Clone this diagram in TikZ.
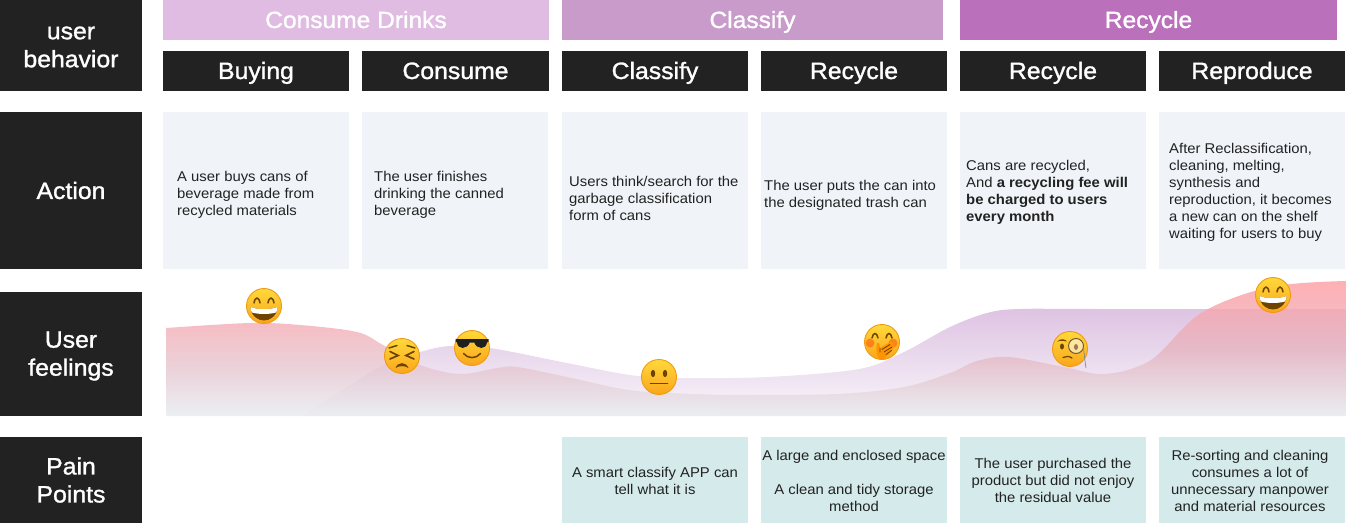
\documentclass[tikz,border=0pt]{standalone}
\usepackage{fontspec}
\setmainfont{Liberation Sans}[FakeStretch=1.05]
\newfontfamily\headfont{Liberation Sans}[FakeStretch=1.05,FakeBold=1.3]
\definecolor{ink}{HTML}{222222}
\definecolor{panel}{HTML}{F0F4F8}
\definecolor{painbg}{HTML}{D5EAEA}
\definecolor{barA}{HTML}{E0BBE2}
\definecolor{barB}{HTML}{C99BCB}
\definecolor{barC}{HTML}{BA70BA}
\definecolor{txt}{HTML}{222222}
\definecolor{fcTop}{HTML}{FFD93A}
\definecolor{fcBot}{HTML}{FAA51C}
\definecolor{fcEdge}{HTML}{F09A12}
\definecolor{fcLine}{HTML}{6E4300}
\definecolor{waveRedL}{HTML}{F4AEB6}
\definecolor{waveMidL}{HTML}{E6C8D2}
\definecolor{waveRedR}{HTML}{FF9FA4}
\definecolor{waveMidR}{HTML}{E6B4C0}
\definecolor{wavePur}{HTML}{DEC3E2}
\definecolor{wavePurEnd}{HTML}{F9F6FB}
\definecolor{waveBase}{HTML}{E7ECF0}
\tikzset{
  x=1pt,y=-1pt,
  blackbox/.style={fill=ink,text=white,font=\headfont\fontsize{23.6}{28}\selectfont,align=center,inner sep=0pt,minimum width=#1},
  rowbox/.style={blackbox=142pt},
  rowtext/.style={text=white,font=\headfont\fontsize{23.6}{28}\selectfont,align=center,inner sep=0pt},
  colbox/.style={blackbox=186pt,minimum height=40pt,text height=20pt,text depth=4pt},
  phase/.style={text=white,font=\headfont\fontsize{23.4}{26}\selectfont,inner sep=0pt,minimum height=40pt,text height=20pt,text depth=4pt},
  panelbox/.style={fill=panel,minimum width=186pt,minimum height=157pt,inner sep=0pt},
  painbox/.style={fill=painbg,minimum width=186pt,minimum height=86pt,inner sep=0pt},
  body/.style={text=txt,font=\fontsize{14.15}{17}\selectfont,align=left,anchor=west,inner sep=0pt},
  painbody/.style={text=txt,font=\fontsize{14.15}{17}\selectfont,align=center,inner sep=0pt},
  facedisc/.style={draw=fcEdge,line width=.9pt,top color=fcTop,bottom color=fcBot},
  faceline/.style={draw=fcLine,line width=1.5pt,line cap=round,fill=none},
  pics/grin/.style={code={
    \path[facedisc] (0,0) circle[radius=17.5];
    \draw[faceline] (-10,-3) .. controls (-9,-9.5) and (-5,-9.5) .. (-4,-3);
    \draw[faceline] (4,-3) .. controls (5,-9.5) and (9,-9.5) .. (10,-3);
    \fill[fcLine] (-13.5,1) .. controls (-6,4) and (6,4) .. (13.5,1) .. controls (13,10) and (6,14.5) .. (0,14.5) .. controls (-6,14.5) and (-13,10) .. cycle;
    \fill[white] (-13.5,1) .. controls (-6,4) and (6,4) .. (13.5,1) .. controls (13.5,3.5) and (13,5) .. (12,6.5) .. controls (5,8.5) and (-5,8.5) .. (-12,6.5) .. controls (-13,5) and (-13.5,3.5) .. cycle;
  }},
  pics/persevere/.style={code={
    \path[facedisc] (0,0) circle[radius=17.5];
    \draw[faceline] (-13,-8) -- (-5,-10.5);
    \draw[faceline] (13,-8) -- (5,-10.5);
    \draw[faceline,line width=1.7pt] (-12,-4.5) -- (-4,-.5) -- (-12,3);
    \draw[faceline,line width=1.7pt] (12,-4.5) -- (4,-.5) -- (12,3);
    \fill[fcLine] (-6.5,12) .. controls (-4,5.5) and (4,5.5) .. (6.5,12) .. controls (3,9.5) and (-3,9.5) .. cycle;
  }},
  pics/shades/.style={code={
    \path[facedisc] (0,0) circle[radius=17.5];
    \fill[black!88] (-16.5,-9) -- (16.5,-9) -- (16.5,-6.5) -- (15,-5.5) .. controls (14,2) and (5,1.5) .. (2.2,-5.5) -- (-2.2,-5.5) .. controls (-5,1.5) and (-14,2) .. (-15,-5.5) -- (-16.5,-6.5) -- cycle;
    \draw[faceline] (-8.5,5.5) .. controls (-4,11) and (4,11) .. (8.5,5.5);
  }},
  pics/neutral/.style={code={
    \path[facedisc] (0,0) circle[radius=17.5];
    \fill[fcLine] (-6,-3.5) ellipse[x radius=2.2,y radius=3.6];
    \fill[fcLine] (6,-3.5) ellipse[x radius=2.2,y radius=3.6];
    \draw[faceline,line width=1.5pt] (-8.5,6.5) -- (8.5,6.5);
  }},
  pics/hushed/.style={code={
    \path[facedisc] (0,0) circle[radius=17.5];
    \fill[red!85!orange,opacity=.35] (-12,1) circle[radius=4.5];
    \fill[red!85!orange,opacity=.35] (11,1) circle[radius=4.5];
    \draw[faceline] (-10,-4) .. controls (-9,-10) and (-5,-10) .. (-4,-4);
    \draw[faceline] (4,-4) .. controls (5,-10) and (9,-10) .. (10,-4);
    \fill[orange!85!yellow] (-3,17) .. controls (-6,12) and (-6,6) .. (-5,1) .. controls (-3.5,-.5) and (-2.5,1) .. (-2,6) -- (8,0) .. controls (11,-1) and (13,2) .. (12,5) .. controls (9,10) and (5,14) .. (2,17) -- cycle;
    \draw[fcLine,line width=.8pt,line cap=round] (0,7.5) -- (8,2.5) (2,10) -- (10,5) (4,12.5) -- (9.5,8.5) (-2,6) -- (-2,10);
  }},
  pics/monocle/.style={code={
    \path[facedisc] (0,0) circle[radius=17.5];
    \fill[fcLine] (-8,-2.5) ellipse[x radius=2,y radius=3];
    \fill[fcLine] (-13,-7.5) .. controls (-9,-11) and (-5,-10) .. (-3,-7.5) .. controls (-6,-8.5) and (-9,-8.5) .. cycle;
    \fill[white,fill opacity=.55,draw=fcLine!60!gray,line width=1pt] (6,-3) circle[radius=7.5];
    \fill[fcLine!70] (6,-2) ellipse[x radius=2,y radius=3];
    \draw[faceline,line width=1.2pt] (-7,8.5) .. controls (-4,7) and (-1,7) .. (2,9);
    \draw[gray,line width=.6pt] (13.5,-1) .. controls (14.5,6) and (15,14) .. (16,19);
  }}
}
\begin{document}
\begin{tikzpicture}
\useasboundingbox (0,0) rectangle (1346,524);
% black row headers
\node[rowbox,minimum height=91pt] (rB) at (71,45.5) {};
\node[rowtext] (rBt) at (71,47) {user\\behavior};
\node[rowbox,minimum height=157pt] (rA) at (71,190.5) {Action};
\node[rowbox,minimum height=124pt] (rF) at (71,354) {};
\node[rowtext] (rFt) at (71,356) {User\\feelings};
\node[rowbox,minimum height=86pt] (rP) at (71,480) {Pain\\Points};
% phases
\node[phase,fill=barA,minimum width=386pt] (p1) at (356,20) {Consume Drinks};
\node[phase,fill=barB,minimum width=381pt] (p2) at (752.5,20) {Classify};
\node[phase,fill=barC,minimum width=377pt] (p3) at (1148.5,20) {Recycle};
% steps
\node[colbox] (c1) at (256,71) {Buying};
\node[colbox,minimum width=187pt] (c2) at (455.5,71) {Consume};
\node[colbox] (c3) at (655,71) {Classify};
\node[colbox] (c4) at (854,71) {Recycle};
\node[colbox] (c5) at (1053,71) {Recycle};
\node[colbox] (c6) at (1252,71) {Reproduce};
% action panels
\node[panelbox] (a1) at (256,190.5) {};
\node[panelbox] (a2) at (455,190.5) {};
\node[panelbox] (a3) at (655,190.5) {};
\node[panelbox] (a4) at (854,190.5) {};
\node[panelbox] (a5) at (1053,190.5) {};
\node[panelbox] (a6) at (1252,190.5) {};
\node[body] (t1) at (177,195) {A user buys cans of\\beverage made from\\recycled materials};
\node[body] (t2) at (374,195) {The user finishes\\drinking the canned\\beverage};
\node[body] (t3) at (569,198) {Users think/search for the\\garbage classification\\form of cans};
\node[body] (t4) at (764,195.5) {The user puts the can into\\the designated trash can};
\node[body] (t5) at (966,192.5) {Cans are recycled,\\And \textbf{a recycling fee will}\\\textbf{be charged to users}\\\textbf{every month}};
\node[body] (t6) at (1169,192.5) {After Reclassification,\\cleaning, melting,\\synthesis and\\reproduction, it becomes\\a new can on the shelf\\waiting for users to buy};
% feelings curves
\path[top color=wavePur,bottom color=wavePurEnd,middle color=wavePur!50!wavePurEnd]
  plot[smooth,tension=.55] coordinates {(302,416) (383,365) (420,352) (450,346) (490,348) (567,363) (630,375) (676,378) (767,377) (859,369) (904,352) (950,327) (987,313) (1019,309) (1100,309) (1346,309)} -- (1346,416) -- cycle;
\path[top color=waveRedL,bottom color=waveBase,middle color=waveMidL,opacity=.82]
  plot[smooth,tension=.55] coordinates {(166,328) (250,323) (300,325) (357,332) (383,345) (420,365) (460,374) (497,368) (517,367) (567,377) (617,388) (650,392) (721,395)} -- (721,416) -- (166,416) -- cycle;
\path[top color=waveRedR,bottom color=waveBase,middle color=waveMidR,opacity=.82]
  plot[smooth,tension=.55] coordinates {(721,395) (836,394) (904,387) (950,373) (977,361) (1009,357) (1064,367) (1105,374) (1151,360) (1201,313) (1270,287) (1346,281)} -- (1346,416) -- (721,416) -- cycle;
% faces
\pic (e1) at (264,306) {grin};
\pic (e2) at (402,356) {persevere};
\pic (e3) at (472,348) {shades};
\pic (e4) at (659,377) {neutral};
\pic (e5) at (882,342) {hushed};
\pic (e6) at (1070,349) {monocle};
\pic (e7) at (1273,295) {grin};
% pain points
\node[painbox] (b3) at (655,480) {};
\node[painbox] (b4) at (854,480) {};
\node[painbox] (b5) at (1053,480) {};
\node[painbox] (b6) at (1252,480) {};
\node[painbody] (q3) at (655,480.5) {A smart classify APP can\\tell what it is};
\node[painbody] (q4) at (854,480.5) {A large and enclosed space\\[17pt]A clean and tidy storage\\method};
\node[painbody] (q5) at (1053,480) {The user purchased the\\product but did not enjoy\\the residual value};
\node[painbody] (q6) at (1250,480.5) {Re-sorting and cleaning\\consumes a lot of\\unnecessary manpower\\and material resources};
\end{tikzpicture}
\end{document}
